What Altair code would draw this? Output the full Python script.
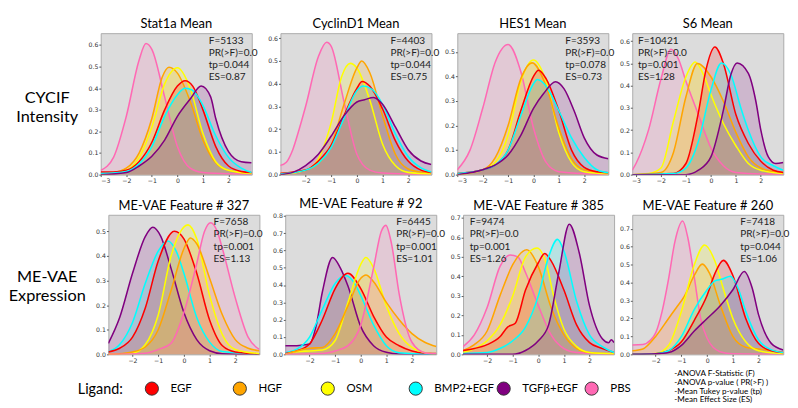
import altair as alt
import pandas as pd

LIGANDS = ["EGF", "HGF", "OSM", "BMP2+EGF", "TGFβ+EGF", "PBS"]
COLORS = ["red", "orange", "yellow", "cyan", "purple", "hotpink"]

# ---- CYCIF Intensity row ----
stat1a = {
    "PBS": [(-3, 0.02), (-2.5, 0.08), (-2, 0.27), (-1.5, 0.53), (-1.23, 0.607), (-1, 0.58), (-0.5, 0.36), (0, 0.13), (0.5, 0.03), (1, 0.01), (2, 0.004), (2.9, 0.003)],
    "HGF": [(-3, 0.005), (-2.5, 0.01), (-2, 0.03), (-1.5, 0.1), (-1, 0.26), (-0.6, 0.45), (-0.33, 0.497), (0, 0.47), (0.5, 0.34), (1, 0.16), (1.5, 0.055), (2, 0.02), (2.9, 0.005)],
    "OSM": [(-3, 0.0), (-2, 0.02), (-1.5, 0.08), (-1, 0.22), (-0.5, 0.42), (0, 0.495), (0.5, 0.4), (1, 0.19), (1.5, 0.06), (2, 0.02), (2.9, 0.005)],
    "EGF": [(-3, 0.012), (-2.5, 0.012), (-2, 0.02), (-1.5, 0.06), (-1, 0.15), (-0.5, 0.3), (0, 0.41), (0.3, 0.435), (0.6, 0.41), (1, 0.3), (1.5, 0.13), (2, 0.04), (2.5, 0.015), (2.9, 0.01)],
    "BMP2+EGF": [(-3, 0.005), (-2, 0.015), (-1.5, 0.05), (-1, 0.13), (-0.5, 0.27), (0, 0.37), (0.3, 0.4), (0.6, 0.39), (1, 0.32), (1.5, 0.18), (2, 0.08), (2.5, 0.03), (2.9, 0.01)],
    "TGFβ+EGF": [(-3, 0.0), (-2, 0.01), (-1.5, 0.04), (-1, 0.085), (-0.5, 0.16), (0, 0.27), (0.5, 0.35), (0.93, 0.41), (1.3, 0.36), (1.5, 0.26), (2, 0.107), (2.5, 0.06), (2.9, 0.055)],
}
cyclind1 = {
    "PBS": [(-3, 0.04), (-2.75, 0.055), (-2.5, 0.11), (-2.25, 0.2), (-2, 0.3), (-1.5, 0.52), (-1.18, 0.583), (-1, 0.565), (-0.5, 0.32), (0, 0.09), (0.5, 0.02), (1, 0.007), (2, 0.003), (2.9, 0.002)],
    "OSM": [(-3, 0.0), (-2, 0.02), (-1.5, 0.07), (-1, 0.23), (-0.6, 0.43), (-0.26, 0.49), (0, 0.47), (0.5, 0.33), (1, 0.135), (1.5, 0.04), (2, 0.01), (2.9, 0.003)],
    "HGF": [(-3, 0.005), (-2, 0.02), (-1.5, 0.05), (-1, 0.13), (-0.5, 0.31), (0, 0.47), (0.19, 0.5), (0.5, 0.45), (1, 0.26), (1.5, 0.09), (2, 0.025), (2.5, 0.012), (2.9, 0.01)],
    "EGF": [(-3, 0.005), (-2, 0.02), (-1.5, 0.06), (-1, 0.13), (-0.5, 0.26), (0, 0.38), (0.2, 0.41), (0.5, 0.39), (1, 0.29), (1.5, 0.15), (2, 0.06), (2.5, 0.02), (2.9, 0.01)],
    "BMP2+EGF": [(-3, 0.003), (-2, 0.02), (-1.5, 0.05), (-1, 0.12), (-0.5, 0.25), (0, 0.37), (0.25, 0.39), (0.6, 0.375), (1, 0.31), (1.5, 0.18), (2, 0.08), (2.5, 0.03), (2.9, 0.012)],
    "TGFβ+EGF": [(-3, 0.0), (-2.5, 0.01), (-2, 0.04), (-1.5, 0.09), (-1, 0.17), (-0.5, 0.26), (0, 0.32), (0.3, 0.33), (0.65, 0.34), (1, 0.31), (1.5, 0.21), (2, 0.11), (2.5, 0.06), (2.9, 0.045)],
}
hes1 = {
    "PBS": [(-3, 0.02), (-2.5, 0.1), (-2, 0.27), (-1.5, 0.46), (-1, 0.53), (-0.5, 0.42), (0, 0.19), (0.5, 0.05), (1, 0.012), (2, 0.004), (2.95, 0.002)],
    "OSM": [(-3, 0.0), (-2, 0.02), (-1.5, 0.05), (-1, 0.16), (-0.5, 0.38), (0, 0.467), (0.5, 0.38), (1, 0.17), (1.5, 0.05), (2, 0.012), (2.95, 0.003)],
    "HGF": [(-3, 0.005), (-2, 0.02), (-1.5, 0.07), (-1, 0.2), (-0.5, 0.39), (-0.05, 0.455), (0.5, 0.36), (1, 0.19), (1.5, 0.065), (2, 0.02), (2.95, 0.008)],
    "EGF": [(-3, 0.005), (-2, 0.02), (-1.5, 0.04), (-1, 0.1), (-0.5, 0.26), (0, 0.4), (0.2, 0.425), (0.5, 0.39), (1, 0.26), (1.5, 0.1), (2, 0.03), (2.5, 0.012), (2.95, 0.008)],
    "BMP2+EGF": [(-3, 0.005), (-2, 0.02), (-1.5, 0.04), (-1, 0.1), (-0.5, 0.24), (0, 0.37), (0.15, 0.387), (0.5, 0.36), (1, 0.26), (1.5, 0.15), (2, 0.07), (2.5, 0.02), (2.95, 0.008)],
    "TGFβ+EGF": [(-3, 0.0), (-2, 0.02), (-1.5, 0.04), (-1, 0.08), (-0.5, 0.16), (0, 0.27), (0.4, 0.33), (0.87, 0.378), (1.2, 0.35), (1.6, 0.26), (2, 0.15), (2.5, 0.08), (2.95, 0.065)],
}
s6 = {
    "PBS": [(-3.15, 0.02), (-3, 0.05), (-2.5, 0.2), (-2, 0.43), (-1.6, 0.564), (-1.3, 0.52), (-1, 0.42), (-0.5, 0.27), (0, 0.12), (0.5, 0.04), (1, 0.01), (2, 0.003), (2.9, 0.002)],
    "OSM": [(-3.15, 0.0), (-2.5, 0.005), (-2, 0.03), (-1.5, 0.24), (-1, 0.44), (-0.63, 0.506), (-0.3, 0.45), (0, 0.36), (0.5, 0.23), (1, 0.13), (1.5, 0.05), (2, 0.02), (2.9, 0.005)],
    "HGF": [(-3.15, 0.0), (-2, 0.01), (-1.5, 0.1), (-1, 0.35), (-0.54, 0.5), (0, 0.44), (0.5, 0.33), (1, 0.19), (1.5, 0.08), (2, 0.03), (2.5, 0.015), (2.9, 0.01)],
    "EGF": [(-3.15, 0.0), (-1.5, 0.005), (-1, 0.05), (-0.5, 0.28), (-0.2, 0.47), (0.16, 0.574), (0.5, 0.5), (1, 0.27), (1.5, 0.14), (2, 0.06), (2.5, 0.02), (2.9, 0.01)],
    "BMP2+EGF": [(-3.15, 0.0), (-1.5, 0.005), (-1, 0.03), (-0.5, 0.15), (0, 0.38), (0.42, 0.502), (0.8, 0.45), (1.2, 0.3), (1.5, 0.2), (2, 0.08), (2.5, 0.04), (2.9, 0.02)],
    "TGFβ+EGF": [(-3.15, 0.0), (-1, 0.0), (-0.5, 0.02), (0, 0.08), (0.5, 0.29), (0.8, 0.45), (1.05, 0.502), (1.5, 0.455), (1.8, 0.33), (2, 0.2), (2.3, 0.08), (2.6, 0.05), (2.9, 0.055)],
}

# ---- ME-VAE Expression row ----
feat327 = {
    "TGFβ+EGF": [(-2.94, 0.045), (-2.5, 0.15), (-2, 0.33), (-1.5, 0.48), (-1.21, 0.517), (-0.9, 0.48), (-0.5, 0.35), (0, 0.17), (0.5, 0.06), (1, 0.015), (1.5, 0.003), (2.94, 0.0)],
    "BMP2+EGF": [(-2.94, 0.01), (-2.5, 0.04), (-2, 0.13), (-1.5, 0.29), (-1, 0.42), (-0.62, 0.461), (-0.3, 0.42), (0, 0.33), (0.5, 0.15), (1, 0.05), (1.5, 0.012), (2.94, 0.002)],
    "EGF": [(-2.94, 0.01), (-2.5, 0.025), (-2, 0.07), (-1.5, 0.19), (-1, 0.38), (-0.37, 0.501), (0, 0.47), (0.5, 0.33), (1, 0.14), (1.5, 0.035), (2, 0.01), (2.94, 0.002)],
    "OSM": [(-2.94, 0.0), (-2, 0.005), (-1.5, 0.04), (-1, 0.16), (-0.5, 0.4), (0.16, 0.527), (0.5, 0.47), (1, 0.24), (1.5, 0.08), (2, 0.02), (2.94, 0.003)],
    "HGF": [(-2.94, 0.0), (-2, 0.01), (-1.5, 0.03), (-1, 0.1), (-0.5, 0.26), (0, 0.43), (0.25, 0.474), (0.5, 0.45), (1, 0.31), (1.5, 0.16), (2, 0.06), (2.5, 0.025), (2.94, 0.015)],
    "PBS": [(-2.94, 0.0), (-1.5, 0.005), (-1, 0.02), (-0.5, 0.045), (0, 0.17), (0.5, 0.37), (0.8, 0.5), (1.04, 0.536), (1.3, 0.5), (1.5, 0.43), (2, 0.23), (2.5, 0.07), (2.94, 0.02)],
}
feat92 = {
    "TGFβ+EGF": [(-2.95, 0.05), (-2.5, 0.05), (-2.2, 0.055), (-2, 0.06), (-1.75, 0.16), (-1.5, 0.36), (-1.1, 0.56), (-0.8, 0.5), (-0.5, 0.395), (0, 0.16), (0.5, 0.05), (1, 0.012), (1.5, 0.002), (2.95, 0.0)],
    "BMP2+EGF": [(-2.95, 0.01), (-2.5, 0.03), (-2, 0.1), (-1.5, 0.26), (-1, 0.41), (-0.6, 0.455), (-0.2, 0.4), (0, 0.34), (0.5, 0.17), (1, 0.05), (1.5, 0.01), (2.95, 0.0)],
    "EGF": [(-2.95, 0.005), (-2.5, 0.02), (-2, 0.06), (-1.5, 0.2), (-1, 0.38), (-0.5, 0.468), (0, 0.38), (0.5, 0.22), (1, 0.1), (1.5, 0.05), (2, 0.02), (2.5, 0.008), (2.95, 0.005)],
    "OSM": [(-2.95, 0.0), (-2.5, 0.015), (-2, 0.02), (-1.5, 0.025), (-1, 0.08), (-0.5, 0.3), (0, 0.52), (0.2, 0.559), (0.5, 0.5), (1, 0.28), (1.5, 0.12), (2, 0.04), (2.5, 0.01), (2.95, 0.003)],
    "HGF": [(-2.95, 0.0), (-2.5, 0.02), (-2, 0.035), (-1.5, 0.04), (-1, 0.12), (-0.5, 0.28), (0, 0.44), (0.2, 0.459), (0.5, 0.42), (1, 0.3), (1.5, 0.2), (2, 0.12), (2.5, 0.07), (2.95, 0.045)],
    "PBS": [(-2.95, 0.0), (-1.5, 0.005), (-1, 0.02), (-0.5, 0.05), (0, 0.17), (0.5, 0.5), (0.8, 0.71), (0.98, 0.745), (1.2, 0.64), (1.5, 0.35), (2, 0.07), (2.5, 0.01), (2.95, 0.003)],
}
feat385 = {
    "PBS": [(-2.94, 0.04), (-2.5, 0.1), (-2, 0.24), (-1.5, 0.45), (-1.1, 0.51), (-0.8, 0.5), (-0.5, 0.42), (0, 0.25), (0.5, 0.1), (1, 0.03), (1.5, 0.01), (2.96, 0.002)],
    "HGF": [(-2.94, 0.02), (-2.5, 0.05), (-2, 0.12), (-1.5, 0.3), (-1, 0.46), (-0.45, 0.537), (0, 0.45), (0.5, 0.24), (1, 0.1), (1.5, 0.03), (2, 0.01), (2.96, 0.003)],
    "OSM": [(-2.94, 0.01), (-2.5, 0.03), (-2, 0.07), (-1.5, 0.15), (-1, 0.3), (-0.5, 0.5), (-0.05, 0.546), (0.3, 0.47), (0.6, 0.3), (1, 0.13), (1.5, 0.04), (2, 0.01), (2.96, 0.003)],
    "EGF": [(-2.94, 0.02), (-2.5, 0.03), (-2, 0.05), (-1.5, 0.09), (-1.2, 0.14), (-0.9, 0.16), (-0.5, 0.33), (0, 0.47), (0.25, 0.518), (0.5, 0.48), (1, 0.33), (1.5, 0.15), (2, 0.06), (2.5, 0.03), (2.96, 0.01)],
    "BMP2+EGF": [(-2.94, 0.005), (-2, 0.01), (-1.5, 0.03), (-1, 0.07), (-0.5, 0.14), (0, 0.3), (0.4, 0.5), (0.75, 0.59), (1, 0.53), (1.5, 0.27), (2, 0.1), (2.5, 0.04), (2.96, 0.01)],
    "TGFβ+EGF": [(-2.94, 0.0), (-1, 0.0), (-0.5, 0.02), (0, 0.07), (0.4, 0.15), (0.8, 0.42), (1.21, 0.668), (1.6, 0.52), (2, 0.25), (2.5, 0.08), (2.75, 0.06), (2.85, 0.075), (2.96, 0.06)],
}
feat260 = {
    "PBS": [(-2.91, 0.052), (-2.5, 0.055), (-2.2, 0.08), (-2, 0.12), (-1.75, 0.24), (-1.5, 0.42), (-1.25, 0.63), (-0.95, 0.743), (-0.75, 0.65), (-0.5, 0.43), (-0.25, 0.2), (0, 0.09), (0.5, 0.015), (1, 0.003), (2.96, 0.0)],
    "HGF": [(-2.91, 0.02), (-2.5, 0.03), (-2, 0.1), (-1.5, 0.2), (-1.2, 0.26), (-0.9, 0.32), (-0.5, 0.44), (-0.19, 0.503), (0.1, 0.45), (0.5, 0.28), (1, 0.1), (1.5, 0.04), (2, 0.03), (2.5, 0.02), (2.96, 0.01)],
    "OSM": [(-2.91, 0.0), (-2, 0.005), (-1.5, 0.05), (-1, 0.24), (-0.5, 0.5), (-0.1, 0.61), (0.3, 0.52), (0.6, 0.38), (1, 0.2), (1.5, 0.07), (2, 0.02), (2.96, 0.003)],
    "EGF": [(-2.91, 0.0), (-2, 0.003), (-1.5, 0.02), (-1, 0.07), (-0.5, 0.19), (0, 0.33), (0.3, 0.45), (0.63, 0.524), (1, 0.44), (1.5, 0.2), (2, 0.06), (2.5, 0.02), (2.96, 0.01)],
    "BMP2+EGF": [(-2.91, 0.0), (-2, 0.003), (-1.5, 0.02), (-1, 0.1), (-0.5, 0.25), (0, 0.36), (0.3, 0.41), (0.6, 0.42), (0.9, 0.436), (1.2, 0.37), (1.5, 0.24), (2, 0.08), (2.5, 0.025), (2.96, 0.01)],
    "TGFβ+EGF": [(-2.91, 0.0), (-2, 0.003), (-1.5, 0.01), (-1, 0.05), (-0.5, 0.13), (0, 0.2), (0.5, 0.27), (1, 0.36), (1.44, 0.462), (1.75, 0.37), (2, 0.22), (2.5, 0.06), (2.96, 0.025)],
}

TITLES = ["Stat1a Mean", "CyclinD1 Mean", "HES1 Mean", "S6 Mean",
          "ME-VAE Feature # 327", "ME-VAE Feature # 92", "ME-VAE Feature # 385", "ME-VAE Feature # 260"]
NOTES = [
    ["F=5133", "PR(>F)=0.0", "tp=0.044", "ES=0.87"],
    ["F=4403", "PR(>F)=0.0", "tp=0.044", "ES=0.75"],
    ["F=3593", "PR(>F)=0.0", "tp=0.078", "ES=0.73"],
    ["F=10421", "PR(>F)=0.0", "tp=0.001", "ES=1.28"],
    ["F=7658", "PR(>F)=0.0", "tp=0.001", "ES=1.13"],
    ["F=6445", "PR(>F)=0.0", "tp=0.001", "ES=1.01"],
    ["F=9474", "PR(>F)=0.0", "tp=0.001", "ES=1.26"],
    ["F=7418", "PR(>F)=0.0", "tp=0.044", "ES=1.06"],
]
FOOTNOTE = ["-ANOVA F-Statistic (F)", "-ANOVA p-value ( PR(>F) )",
            "-Mean Tukey p-value (tp)", "-Mean Effect Size (ES)"]
ROW_LABELS = [["CYCIF", "Intensity"], ["ME-VAE", "Expression"]]

FONT = "Lato"
PW = 158
cscale = alt.Scale(domain=LIGANDS, range=COLORS)
one = pd.DataFrame({"k": [0]})


def panel(curves, title, xdom, ydom, xticks, yticks, notes, note_x, h):
    rows = []
    for lig, pts in curves.items():
        for x, y in pts:
            rows.append({"Ligand": lig, "x": x, "y": y})
    df = pd.DataFrame(rows)
    ax = dict(title=None, grid=False, domain=False, labelFontSize=6.5,
              labelFont="DejaVu Sans", tickSize=2, labelPadding=1,
              labelColor="#333333", tickColor="#555555")
    X = alt.X("x:Q", scale=alt.Scale(domain=xdom, nice=False, zero=False),
              axis=alt.Axis(values=xticks, format="d", **ax))
    Y = alt.Y("y:Q", stack=None, scale=alt.Scale(domain=ydom, nice=False),
              axis=alt.Axis(values=yticks, format=".1f", **ax))
    C = alt.Color("Ligand:N", scale=cscale, legend=None)
    base = alt.Chart(df)
    area = base.mark_area(opacity=0.17, interpolate="monotone", clip=True).encode(X, Y, C)
    line = base.mark_line(strokeWidth=1.6, interpolate="monotone", clip=True).encode(X, Y, C)
    txt = alt.Chart(one).mark_text(
        text=notes, align="left", baseline="top", font=FONT, fontSize=10.5,
        lineHeight=12.7, color="#222222"
    ).encode(x=alt.value(note_x), y=alt.value(3))
    return alt.layer(area, line, txt).properties(
        width=PW, height=h, title=alt.TitleParams(title))


def row_label(lines, h, y0):
    return alt.Chart(one).mark_text(
        text=lines, align="center", baseline="middle", font=FONT, fontSize=17,
        lineHeight=20, color="black"
    ).encode(x=alt.value(30), y=alt.value(y0)).properties(
        width=62, height=h, title=alt.TitleParams(" "),
        view=alt.ViewBackground(fill="transparent", stroke="transparent"))


H1, H2 = 148, 146
p1 = panel(stat1a, TITLES[0], [-3, 2.91], [0, 0.655], [-3, -2, -1, 0, 1, 2], [0, .1, .2, .3, .4, .5, .6], NOTES[0], 113, H1)
p2 = panel(cyclind1, TITLES[1], [-2.98, 2.91], [0, 0.623], [-2, -1, 0, 1, 2], [0, .1, .2, .3, .4, .5, .6], NOTES[1], 115, H1)
p3 = panel(hes1, TITLES[2], [-3, 2.95], [0, 0.576], [-3, -2, -1, 0, 1, 2], [0, .1, .2, .3, .4, .5], NOTES[2], 113, H1)
p4 = panel(s6, TITLES[3], [-3.15, 2.9], [0, 0.636], [-3, -2, -1, 0, 1, 2], [0, .1, .2, .3, .4, .5, .6], NOTES[3], 6, H1)
p5 = panel(feat327, TITLES[4], [-2.94, 2.94], [0, 0.568], [-2, -1, 0, 1, 2], [0, .1, .2, .3, .4, .5], NOTES[4], 110, H2)
p6 = panel(feat92, TITLES[5], [-2.95, 2.95], [0, 0.806], [-2, -1, 0, 1, 2], [0, .1, .2, .3, .4, .5, .6, .7, .8], NOTES[5], 116, H2)
p7 = panel(feat385, TITLES[6], [-2.94, 2.96], [0, 0.716], [-2, -1, 0, 1, 2], [0, .1, .2, .3, .4, .5, .6, .7], NOTES[6], 7, H2)
p8 = panel(feat260, TITLES[7], [-2.91, 2.96], [0, 0.778], [-2, -1, 0, 1, 2], [0, .1, .2, .3, .4, .5, .6, .7], NOTES[7], 113, H2)

row1 = alt.hconcat(row_label(ROW_LABELS[0], H1, 68), p1, alt.hconcat(p2, p3, p4, spacing=4), spacing=9)
row2 = alt.hconcat(row_label(ROW_LABELS[1], H2, 65), p5, alt.hconcat(p6, p7, p8, spacing=4), spacing=9)

leg_df = pd.DataFrame({"Ligand": LIGANDS})
legend = alt.Legend(
    orient="none", legendX=62, legendY=12, direction="horizontal", columns=6,
    title="Ligand:", titleOrient="left", titleFontSize=15, titleFont=FONT,
    titleFontWeight="normal", titleColor="black", titlePadding=22,
    labelFontSize=12, labelFont=FONT, labelColor="black", labelOffset=12,
    symbolType="circle", symbolSize=190, symbolStrokeColor="#333333",
    symbolStrokeWidth=1, symbolOpacity=1, gridAlign="all", columnPadding=0)
leg_pts = alt.Chart(leg_df).mark_circle(opacity=0).encode(
    x=alt.value(0), y=alt.value(0),
    color=alt.Color("Ligand:N", scale=cscale, legend=legend))
foot = alt.Chart(one).mark_text(
    text=FOOTNOTE, align="left", baseline="top", font=FONT, fontSize=8.5,
    lineHeight=9, color="black"
).encode(x=alt.value(686), y=alt.value(0))
bottom = alt.layer(leg_pts, foot).properties(
    width=781, height=30,
    view=alt.ViewBackground(fill="transparent", stroke="transparent"))

top_rows = alt.vconcat(row1, row2, spacing=13)
chart = alt.vconcat(top_rows, bottom, spacing=2).resolve_legend(
    color="independent"
).properties(
    padding={"left": 0, "top": 0, "right": 0, "bottom": 0}
).configure_view(
    fill="#dcdcdc", stroke="#a9a9a9", strokeWidth=1
).configure_title(
    font=FONT, fontSize=13.5, fontWeight="normal", anchor="middle", offset=3, color="black"
)

chart.save("out.html", embed_options={"renderer": "svg", "actions": False})
